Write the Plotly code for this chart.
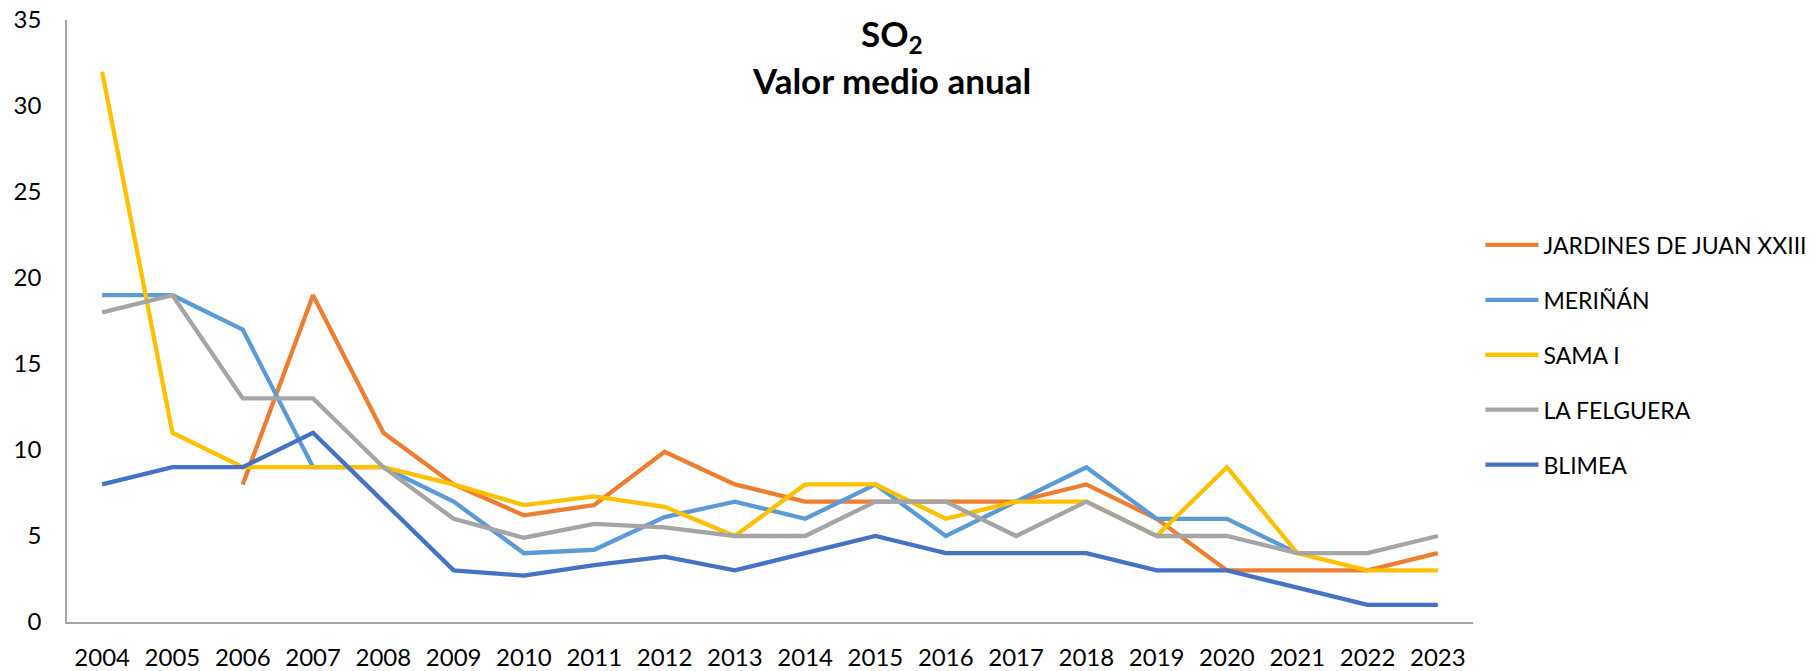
import plotly.graph_objects as go

years = [str(y) for y in range(2004, 2024)]

jardines = [None, None, 8, 19, 11, 8, 6.2, 6.8, 9.9, 8, 7, 7, 7, 7, 8, 6, 3, 3, 3, 4]
merinan = [19, 19, 17, 9, 9, 7, 4, 4.2, 6.1, 7, 6, 8, 5, 7, 9, 6, 6, 4, None, None]
sama = [32, 11, 9, 9, 9, 8, 6.8, 7.3, 6.7, 5, 8, 8, 6, 7, 7, 5, 9, 4, 3, 3]
felguera = [18, 19, 13, 13, 9, 6, 4.9, 5.7, 5.5, 5, 5, 7, 7, 5, 7, 5, 5, 4, 4, 5]
blimea = [8, 9, 9, 11, 7, 3, 2.7, 3.3, 3.8, 3, 4, 5, 4, 4, 4, 3, 3, 2, 1, 1]

series = [
    ("JARDINES DE JUAN XXIII", jardines, "#ED7D31"),
    ("MERIÑÁN", merinan, "#5B9BD5"),
    ("SAMA I", sama, "#FFC000"),
    ("LA FELGUERA", felguera, "#A5A5A5"),
    ("BLIMEA", blimea, "#4472C4"),
]

FONT = "Lato"

fig = go.Figure()
for i, (name, vals, color) in enumerate(series):
    fig.add_trace(go.Scatter(
        x=years, y=vals, name=name, mode="lines",
        line=dict(color=color, width=4.3),
        legendgroup=f"g{i}",
        connectgaps=False,
    ))

fig.update_layout(
    width=1812, height=663,
    paper_bgcolor="white", plot_bgcolor="white",
    margin=dict(l=59, r=347, t=12, b=49, autoexpand=False),
    font=dict(family=FONT, color="#000000", size=24),
    showlegend=True,
    legend=dict(
        x=1.0053, xanchor="left", y=0.662, yanchor="top",
        font=dict(family=FONT, size=23, color="#000000"),
        tracegroupgap=22, traceorder="grouped",
        itemwidth=53, bgcolor="rgba(0,0,0,0)",
    ),
    xaxis=dict(
        type="category", range=[-0.5, 19.5],
        showline=True, linecolor="#A6A6A6", linewidth=1.5,
        showgrid=False, ticks="", zeroline=False,
        tickfont=dict(family=FONT, size=24, color="#000000"),
        ticklabelstandoff=13, automargin=False, ticklabeloverflow="allow",
    ),
    yaxis=dict(
        range=[0, 35], dtick=5, tick0=0,
        showline=True, linecolor="#A6A6A6", linewidth=1.5,
        showgrid=False, ticks="", zeroline=False,
        tickfont=dict(family=FONT, size=24, color="#000000"),
        ticklabelstandoff=19, automargin=False, ticklabeloverflow="allow",
    ),
    annotations=[
        dict(text="<b>SO<sub>2</sub></b>", x=0.5866, y=0.9745, xref="paper", yref="paper",
             xanchor="center", yanchor="middle", showarrow=False,
             font=dict(family=FONT, size=35, color="#000000")),
        dict(text="<b>Valor medio anual</b>", x=0.5866, y=0.9, xref="paper", yref="paper",
             xanchor="center", yanchor="middle", showarrow=False,
             font=dict(family=FONT, size=35, color="#000000")),
    ],
)

fig.write_html("out.html")
